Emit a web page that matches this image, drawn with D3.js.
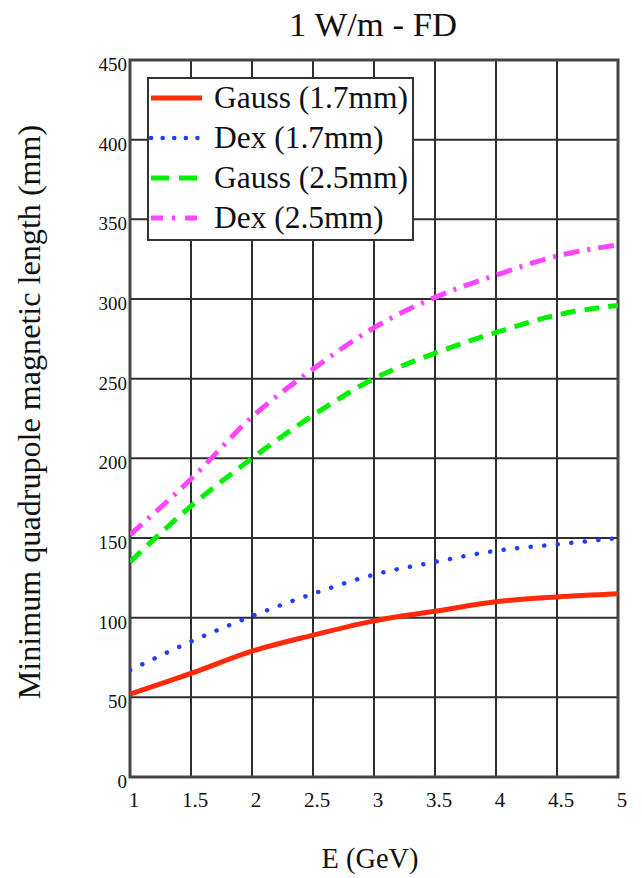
<!DOCTYPE html>
<html><head><meta charset="utf-8">
<script src="https://cdn.jsdelivr.net/npm/d3@7/dist/d3.min.js"></script>
<style>html,body{margin:0;padding:0;background:#fff;}svg{display:block;}
svg text{font-family:"Liberation Serif","Times New Roman",serif;}</style>
</head><body>
<script>
const energy = [1, 1.5, 2, 2.5, 3, 3.5, 4, 4.5, 5];
const gauss17 = [52, 65, 79, 89, 98, 104, 110, 113, 115];
const dex17 = [67, 85, 101, 115, 127, 135, 142, 146, 150];
const gauss25 = [135, 170, 200, 227, 250, 266, 279, 290, 296];
const dex25 = [152, 187, 226, 256, 282, 301, 315, 327, 334];
const seriesNames = ["Gauss (1.7mm)", "Dex (1.7mm)", "Gauss (2.5mm)", "Dex (2.5mm)"];
const xTicks = [1, 1.5, 2, 2.5, 3, 3.5, 4, 4.5, 5];
const xTickLabels = ["1", "1.5", "2", "2.5", "3", "3.5", "4", "4.5", "5"];
const yTicks = [0, 50, 100, 150, 200, 250, 300, 350, 400, 450];
const titleText = "1 W/m - FD";
const xLabel = "E (GeV)";
const yLabel = "Minimum quadrupole magnetic length (mm)";

const W = 642, H = 878;
const svg = d3.select("body").append("svg").attr("width", W).attr("height", H);
const x = d3.scaleLinear().domain([1, 5]).range([130, 618]);
const y = d3.scaleLinear().domain([0, 450]).range([777, 60]);

const styles = [
  {color: "#ff2a0a", width: 5, dash: null, cap: "butt"},
  {color: "#1f3cff", width: 4.5, dash: "0.1 13.5", cap: "round"},
  {color: "#00f000", width: 5, dash: "15 9", cap: "butt"},
  {color: "#ff45ff", width: 5, dash: "16 8 3 8", cap: "butt"}
];
const legendStyles = [
  {dash: null}, {dash: "0.1 11.5"}, {dash: "18 10"}, {dash: "12 9 3 10"}
];
const allSeries = [gauss17, dex17, gauss25, dex25];

function fit(sel, target) {
  sel.style("font-size", "100px");
  const w = sel.node().getComputedTextLength();
  sel.style("font-size", (100 * target / w) + "px");
  return 100 * target / w;
}

// grid
const g = svg.append("g");
g.selectAll("line.vx").data(xTicks).join("line")
  .attr("x1", d => x(d)).attr("x2", d => x(d)).attr("y1", y(0)).attr("y2", y(450))
  .attr("stroke", "#2e2e2e").attr("stroke-width", 2);
g.selectAll("line.hy").data(yTicks).join("line")
  .attr("y1", d => y(d)).attr("y2", d => y(d)).attr("x1", x(1)).attr("x2", x(5))
  .attr("stroke", "#2e2e2e").attr("stroke-width", 2);
g.append("rect").attr("x", x(1)).attr("y", y(450)).attr("width", x(5) - x(1)).attr("height", y(0) - y(450))
  .attr("fill", "none").attr("stroke", "#444").attr("stroke-width", 3);

// tick labels
svg.append("g").selectAll("text").data(xTicks).join("text")
  .attr("x", d => x(d) + 4).attr("y", 807).attr("text-anchor", "middle")
  .style("font-size", "21px").attr("fill", "#111")
  .text((d, i) => xTickLabels[i]);
svg.append("g").selectAll("text").data(yTicks).join("text")
  .attr("x", 127).attr("y", d => y(d) + 11).attr("text-anchor", "end")
  .style("font-size", "19px").attr("fill", "#111")
  .text(d => d);

// lines
const line = d3.line().x((d, i) => x(energy[i])).y(d => y(d)).curve(d3.curveMonotoneX);
svg.append("clipPath").attr("id", "clip").append("rect")
  .attr("x", x(1)).attr("y", y(450)).attr("width", x(5) - x(1)).attr("height", y(0) - y(450));
allSeries.forEach((s, i) => {
  svg.append("path").attr("d", line(s)).attr("fill", "none")
    .attr("clip-path", "url(#clip)")
    .attr("stroke", styles[i].color).attr("stroke-width", styles[i].width)
    .attr("stroke-linecap", styles[i].cap)
    .attr("stroke-dasharray", styles[i].dash);
});

// legend
const lg = svg.append("g");
lg.append("rect").attr("x", 148).attr("y", 78).attr("width", 265).attr("height", 162)
  .attr("fill", "#fff").attr("stroke", "#333").attr("stroke-width", 2);
const rowY = [98, 138, 178, 218];
let legendSize = null;
seriesNames.forEach((name, i) => {
  lg.append("line").attr("x1", 151).attr("x2", 202).attr("y1", rowY[i]).attr("y2", rowY[i])
    .attr("stroke", styles[i].color).attr("stroke-width", styles[i].width)
    .attr("stroke-linecap", styles[i].cap)
    .attr("stroke-dasharray", legendStyles[i].dash);
  const t = lg.append("text").attr("x", 214).attr("y", rowY[i] + 10)
    .attr("fill", "#111").text(name);
  if (i === 0) { legendSize = fit(t, 194); }
  else t.style("font-size", legendSize + "px");
});

// title & axis labels
const tt = svg.append("text").attr("x", 373).attr("y", 36).attr("text-anchor", "middle")
  .attr("fill", "#111").text(titleText);
fit(tt, 168);
const xl = svg.append("text").attr("x", 370).attr("y", 868).attr("text-anchor", "middle")
  .attr("fill", "#111").text(xLabel);
fit(xl, 97);
const yl = svg.append("text").attr("transform", "translate(40,412) rotate(-90)").attr("text-anchor", "middle")
  .attr("fill", "#111").text(yLabel);
fit(yl, 575);
</script>
</body></html>
